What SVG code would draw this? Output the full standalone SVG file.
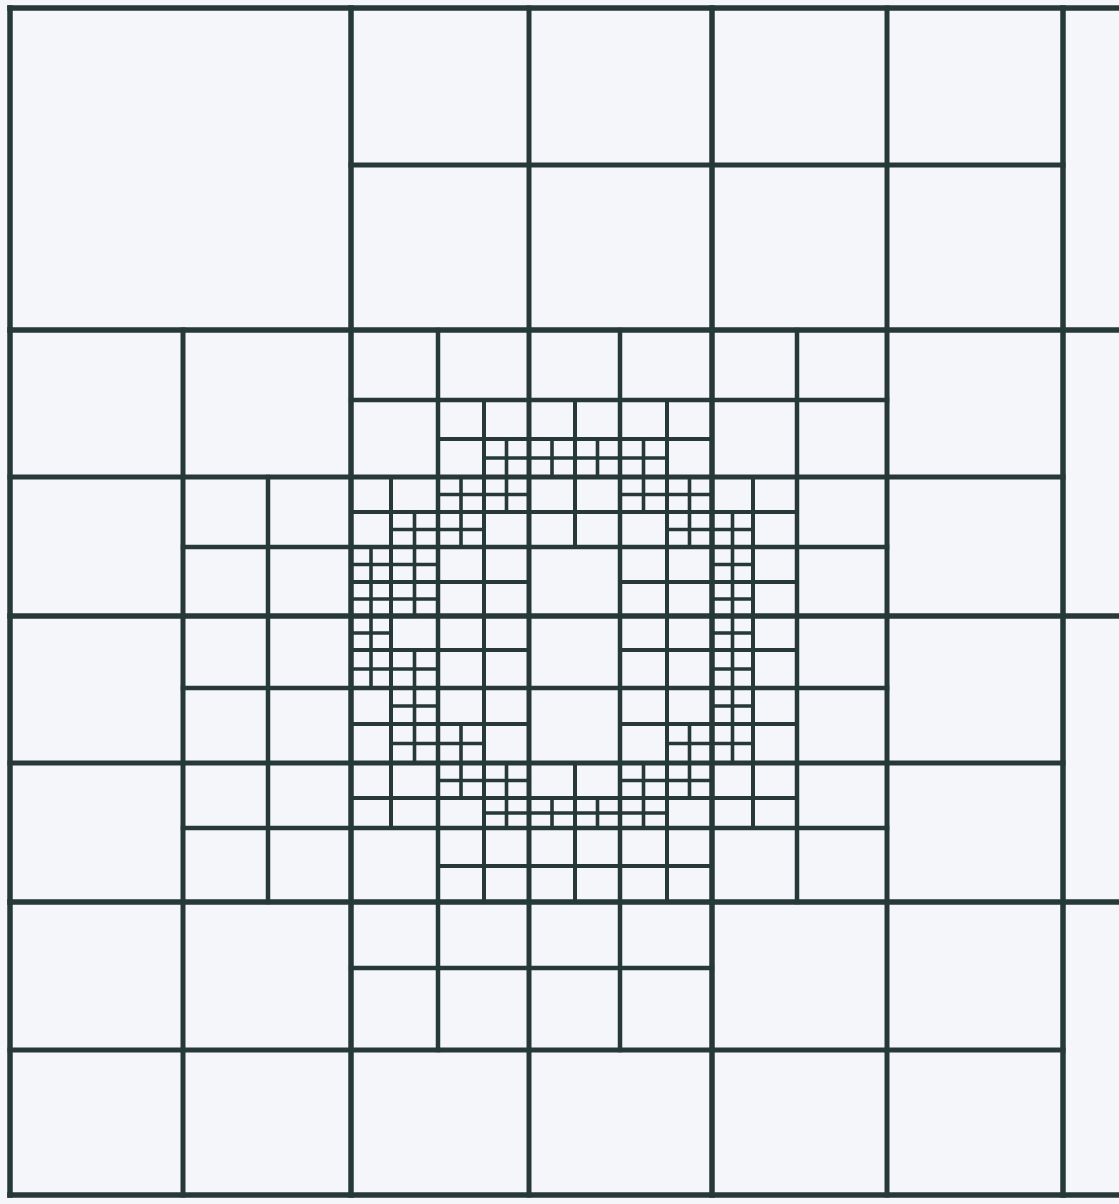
<svg xmlns="http://www.w3.org/2000/svg" width="1119" height="1204" viewBox="0 0 1119 1204">
<style>
line{stroke:#263838;stroke-linecap:square}
.l1 line{stroke-width:5.5}
.l2 line{stroke-width:5}
.l3 line{stroke-width:4.5}
.l4 line{stroke-width:4}
.l5 line{stroke-width:3.6}
</style>
<rect x="0" y="0" width="1119" height="1204" fill="#f4f6fa"/>
<g id="border" class="l1">
<line x1="10" y1="8" x2="10" y2="1195"/>
<line x1="10" y1="8" x2="1125" y2="8"/>
<line x1="10" y1="1195" x2="1125" y2="1195"/>
</g>
<g id="level1" class="l1">
<line x1="351" y1="8" x2="351" y2="1195"/>
<line x1="712" y1="8" x2="712" y2="1195"/>
<line x1="1063" y1="8" x2="1063" y2="1195"/>
<line x1="10" y1="330" x2="1125" y2="330"/>
<line x1="10" y1="616" x2="1125" y2="616"/>
<line x1="10" y1="902" x2="1125" y2="902"/>
</g>
<g id="level2" class="l2">
<line x1="529" y1="8" x2="529" y2="1195"/>
<line x1="887" y1="8" x2="887" y2="1195"/>
<line x1="183" y1="330" x2="183" y2="1195"/>
<line x1="351" y1="165" x2="1063" y2="165"/>
<line x1="10" y1="477" x2="1063" y2="477"/>
<line x1="10" y1="763" x2="1063" y2="763"/>
<line x1="10" y1="1050" x2="1063" y2="1050"/>
</g>
<g id="level3" class="l3">
<line x1="268" y1="477" x2="268" y2="902"/>
<line x1="438" y1="330" x2="438" y2="1050"/>
<line x1="620" y1="330" x2="620" y2="1050"/>
<line x1="797" y1="330" x2="797" y2="902"/>
<line x1="351" y1="400" x2="887" y2="400"/>
<line x1="183" y1="547" x2="887" y2="547"/>
<line x1="183" y1="688" x2="887" y2="688"/>
<line x1="183" y1="828" x2="887" y2="828"/>
<line x1="351" y1="968" x2="712" y2="968"/>
</g>
<g id="level4" class="l4">
<line x1="391" y1="477" x2="391" y2="828"/>
<line x1="484" y1="400" x2="484" y2="902"/>
<line x1="575" y1="400" x2="575" y2="547"/>
<line x1="575" y1="763" x2="575" y2="902"/>
<line x1="667" y1="400" x2="667" y2="902"/>
<line x1="753" y1="477" x2="753" y2="828"/>
<line x1="438" y1="439" x2="712" y2="439"/>
<line x1="351" y1="512" x2="797" y2="512"/>
<line x1="351" y1="582" x2="529" y2="582"/>
<line x1="620" y1="582" x2="797" y2="582"/>
<line x1="351" y1="650" x2="529" y2="650"/>
<line x1="620" y1="650" x2="797" y2="650"/>
<line x1="351" y1="724" x2="529" y2="724"/>
<line x1="620" y1="724" x2="797" y2="724"/>
<line x1="351" y1="798" x2="797" y2="798"/>
<line x1="438" y1="866" x2="712" y2="866"/>
</g>
<g id="level5" class="l5">
<line x1="484" y1="458" x2="667" y2="458"/>
<line x1="438" y1="494.5" x2="529" y2="494.5"/>
<line x1="620" y1="494.5" x2="712" y2="494.5"/>
<line x1="391" y1="529.5" x2="484" y2="529.5"/>
<line x1="667" y1="529.5" x2="753" y2="529.5"/>
<line x1="351" y1="564.5" x2="438" y2="564.5"/>
<line x1="712" y1="564.5" x2="753" y2="564.5"/>
<line x1="351" y1="599" x2="438" y2="599"/>
<line x1="712" y1="599" x2="753" y2="599"/>
<line x1="351" y1="633" x2="391" y2="633"/>
<line x1="712" y1="633" x2="753" y2="633"/>
<line x1="351" y1="669" x2="438" y2="669"/>
<line x1="712" y1="669" x2="753" y2="669"/>
<line x1="391" y1="706" x2="438" y2="706"/>
<line x1="712" y1="706" x2="753" y2="706"/>
<line x1="391" y1="743.5" x2="484" y2="743.5"/>
<line x1="667" y1="743.5" x2="753" y2="743.5"/>
<line x1="438" y1="780.5" x2="529" y2="780.5"/>
<line x1="620" y1="780.5" x2="712" y2="780.5"/>
<line x1="484" y1="813" x2="667" y2="813"/>
<line x1="371" y1="547" x2="371" y2="688"/>
<line x1="414.5" y1="512" x2="414.5" y2="616"/>
<line x1="414.5" y1="650" x2="414.5" y2="763"/>
<line x1="461" y1="477" x2="461" y2="547"/>
<line x1="461" y1="724" x2="461" y2="798"/>
<line x1="506.5" y1="439" x2="506.5" y2="512"/>
<line x1="506.5" y1="763" x2="506.5" y2="828"/>
<line x1="552" y1="439" x2="552" y2="477"/>
<line x1="552" y1="798" x2="552" y2="828"/>
<line x1="597.5" y1="439" x2="597.5" y2="477"/>
<line x1="597.5" y1="798" x2="597.5" y2="828"/>
<line x1="643.5" y1="439" x2="643.5" y2="512"/>
<line x1="643.5" y1="763" x2="643.5" y2="828"/>
<line x1="689.5" y1="477" x2="689.5" y2="547"/>
<line x1="689.5" y1="724" x2="689.5" y2="798"/>
<line x1="732.5" y1="512" x2="732.5" y2="763"/>
</g>
</svg>
